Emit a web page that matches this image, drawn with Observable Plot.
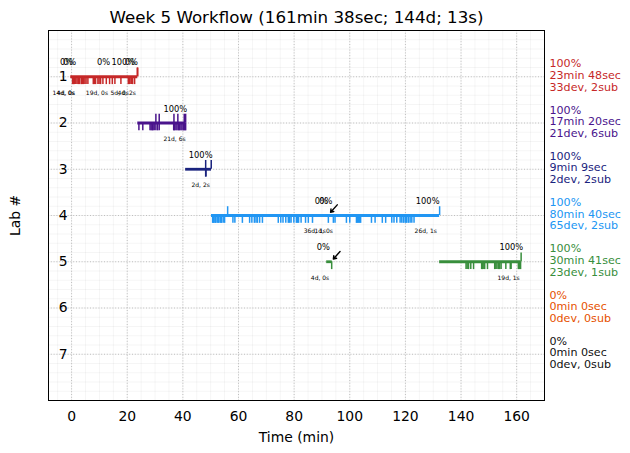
<!DOCTYPE html>
<html><head><meta charset="utf-8">
<script src="https://cdn.jsdelivr.net/npm/d3@7"></script>
<script src="https://cdn.jsdelivr.net/npm/@observablehq/plot@0.6"></script>
<style>body{margin:0;background:#fff}</style>
</head><body><div id="chart"></div>
<script>
const title = "Week 5 Workflow (161min 38sec; 144d; 13s)";
const labs = [1, 2, 3, 4, 5, 6, 7];
const labColors = ["#c62828", "#4a148c", "#1a237e", "#2196f3", "#388e3c", "#e65100", "#111111"];
const xTicks = [0, 20, 40, 60, 80, 100, 120, 140, 160];
const yTicks = [1, 2, 3, 4, 5, 6, 7];
const summaryPct = ["100%", "100%", "100%", "100%", "100%", "0%", "0%"];
const summaryTime = ["23min 48sec", "17min 20sec", "9min 9sec", "80min 40sec", "30min 41sec", "0min 0sec", "0min 0sec"];
const summaryCounts = ["33dev, 2sub", "21dev, 6sub", "2dev, 2sub", "65dev, 2sub", "23dev, 1sub", "0dev, 0sub", "0dev, 0sub"];

// work segments per lab (minutes)
const segLab = [1, 2, 3, 4, 5, 5];
const segStart = [-0.3, 23.8, 41.0, 50.3, 91.7, 132.3];
const segEnd = [23.8, 41.1, 50.3, 132.3, 93.7, 161.6];

// development events (minutes)
const devLab1 = [0.36, 0.65, 0.97, 1.26, 1.55, 1.98, 2.41, 2.66, 2.88, 3.49, 3.88, 4.32, 4.78, 5.21, 5.86, 7.80, 8.20, 8.63, 9.46, 9.89, 10.43, 11.26, 12.48, 13.66, 14.63, 15.57, 17.73, 20.39, 20.79, 21.32, 21.64, 21.94, 22.66];
const devLab2 = [24.2, 25.6, 28.2, 28.6, 29.0, 29.3, 29.7, 30.3, 30.9, 31.5, 36.7, 37.0, 37.5, 37.9, 38.4, 38.8, 39.3, 39.7, 40.2, 40.6, 41.0];
const devLab3 = [48.2, 48.3];
const devLab4 = [50.7, 51.0, 51.2, 51.6, 51.8, 52.3, 52.6, 52.9, 53.4, 53.7, 53.9, 54.5, 55.0, 58.0, 58.7, 61.4, 64.0, 64.8, 65.7, 66.3, 66.8, 67.6, 68.6, 74.3, 75.2, 76.0, 77.0, 77.9, 78.4, 78.9, 79.9, 80.8, 81.2, 81.6, 82.5, 84.1, 85.1, 86.6, 92.3, 94.1, 94.7, 98.8, 100.0, 102.4, 102.7, 103.1, 103.5, 103.9, 107.8, 109.1, 111.7, 112.9, 115.1, 115.9, 116.9, 118.1, 118.7, 119.3, 119.9, 120.2, 120.5, 121.1, 121.7, 122.3, 123.1];
const devLab5 = [93.5, 141.8, 142.2, 142.7, 143.5, 144.5, 147.4, 147.8, 148.2, 148.5, 149.5, 152.1, 152.5, 152.9, 153.4, 153.9, 154.4, 156.1, 157.7, 158.0, 160.6, 161.0, 161.4];

// submissions (minutes)
const subLab1 = [23.6, 23.8];
const subLab2 = [30.3, 31.5, 36.8, 38.2, 40.5, 41.0];
const subLab3 = [48.2, 50.2];
const subLab4 = [56.1, 132.3];
const subLab5 = [161.6];

// annotations
const noteLab = [1, 1, 1, 1, 1, 1, 1, 1, 1, 1, 2, 2, 3, 3, 4, 4, 4, 4, 4, 4, 5, 5, 5, 5];
const noteX = [-1.8, -0.7, 11.5, 18.6, 21.5, -2.9, -2.0, 9.1, 17.3, 19.8, 37.3, 37.0, 46.4, 46.4, 89.8, 91.4, 128.0, 87.4, 90.6, 127.3, 90.5, 158.1, 89.3, 157.1];
const noteText = ["0%", "0%", "0%", "100%", "0%", "14d, 0s", "4d, 0s", "19d, 0s", "5d, 0s", "4d, 2s", "100%", "21d, 6s", "100%", "2d, 2s", "0%", "0%", "100%", "36d, 1s", "1d, 0s", "26d, 1s", "0%", "100%", "4d, 0s", "19d, 1s"];
const notePos = ["a", "a", "a", "a", "a", "b", "b", "b", "b", "b", "a", "b", "a", "b", "a", "a", "a", "b", "b", "b", "a", "a", "b", "b"];

// arrows (head position)
const arrowLab = [4, 5];
const arrowX = [93.1, 94.1];
const arrowY = [3.93, 4.94];

const color = lab => labColors[lab - 1];
const toRows = (lists) => lists.flatMap((arr, i) => arr.map(t => ({lab: i + 1, t})));
const devRows = toRows([devLab1, devLab2, devLab3, devLab4, devLab5]);
const subRows = toRows([subLab1, subLab2, subLab3, subLab4, subLab5]);
const segRows = segLab.map((lab, i) => ({lab, x1: segStart[i], x2: segEnd[i]}));
const summaryRows = labs.map((lab, i) => ({lab, text: `${summaryPct[i]}\n${summaryTime[i]}\n${summaryCounts[i]}`}));
const notes = noteLab.map((lab, i) => ({lab, x: noteX[i], text: noteText[i], pos: notePos[i]}));
const arrows = arrowLab.map((lab, i) => ({lab, x: arrowX[i], y: arrowY[i]}));

const chart = Plot.plot({
  width: 630,
  height: 453,
  marginLeft: 48,
  marginRight: 86,
  marginTop: 30,
  marginBottom: 53,
  style: {fontFamily: "DejaVu Sans, sans-serif", fontSize: "13.9px", color: "#000", background: "#fff"},
  x: {domain: [-8.3, 170]},
  y: {domain: [0, 8], reverse: true},
  color: {type: "identity"},
  marks: [
    Plot.gridX(d3.range(-5, 171, 5), {stroke: "#000", strokeOpacity: 0.05, strokeWidth: 0.8}),
    Plot.gridY(d3.range(0, 8.01, 0.2), {stroke: "#000", strokeOpacity: 0.05, strokeWidth: 0.8}),
    Plot.gridX(xTicks, {stroke: "#b0b0b0", strokeOpacity: 1, strokeWidth: 0.8, strokeDasharray: "1,1.8"}),
    Plot.gridY(yTicks, {stroke: "#b0b0b0", strokeOpacity: 1, strokeWidth: 0.8, strokeDasharray: "1,1.8"}),
    Plot.axisX(xTicks, {tickSize: 0, tickPadding: 11, fontSize: 13.9, label: "Time (min)", labelAnchor: "center", labelArrow: "none", labelOffset: 41}),
    Plot.axisY(yTicks, {tickSize: 0, tickPadding: -19, fontSize: 13.9, label: "Lab #", labelAnchor: "center", labelArrow: "none", labelOffset: 38}),
    Plot.ruleY(segRows, {y: "lab", x1: "x1", x2: "x2", stroke: d => color(d.lab), strokeWidth: 2.8}),
    Plot.ruleX(devRows, {x: "t", y1: "lab", y2: d => d.lab + 0.17, stroke: d => color(d.lab), strokeWidth: 1.5}),
    Plot.ruleX(subRows, {x: "t", y1: d => d.lab - 0.19, y2: "lab", stroke: d => color(d.lab), strokeWidth: 1.5}),
    Plot.text(notes.filter(d => d.pos === "a"), {x: "x", y: "lab", text: "text", dy: -14, fontSize: 8.3, fill: "#000"}),
    Plot.text(notes.filter(d => d.pos === "b"), {x: "x", y: "lab", text: "text", dy: 16, fontSize: 6, fill: "#000"}),
    Plot.arrow(arrows, {x1: d => d.x + 2.4, y1: d => d.y - 0.16, x2: "x", y2: "y", stroke: "#000", strokeWidth: 1.4, headLength: 8, headAngle: 70}),
    Plot.text(summaryRows, {frameAnchor: "right", y: "lab", text: "text", dx: 5, dy: -1.5, textAnchor: "start", lineAnchor: "middle", lineHeight: 1.05, fontSize: 11.1, fill: d => color(d.lab)}),
    Plot.text([title], {frameAnchor: "top", dy: -19, fontSize: 16.7, fill: "#000"}),
    Plot.frame({stroke: "#000", strokeWidth: 1})
  ]
});
document.getElementById("chart").append(chart);
</script>
</body></html>
